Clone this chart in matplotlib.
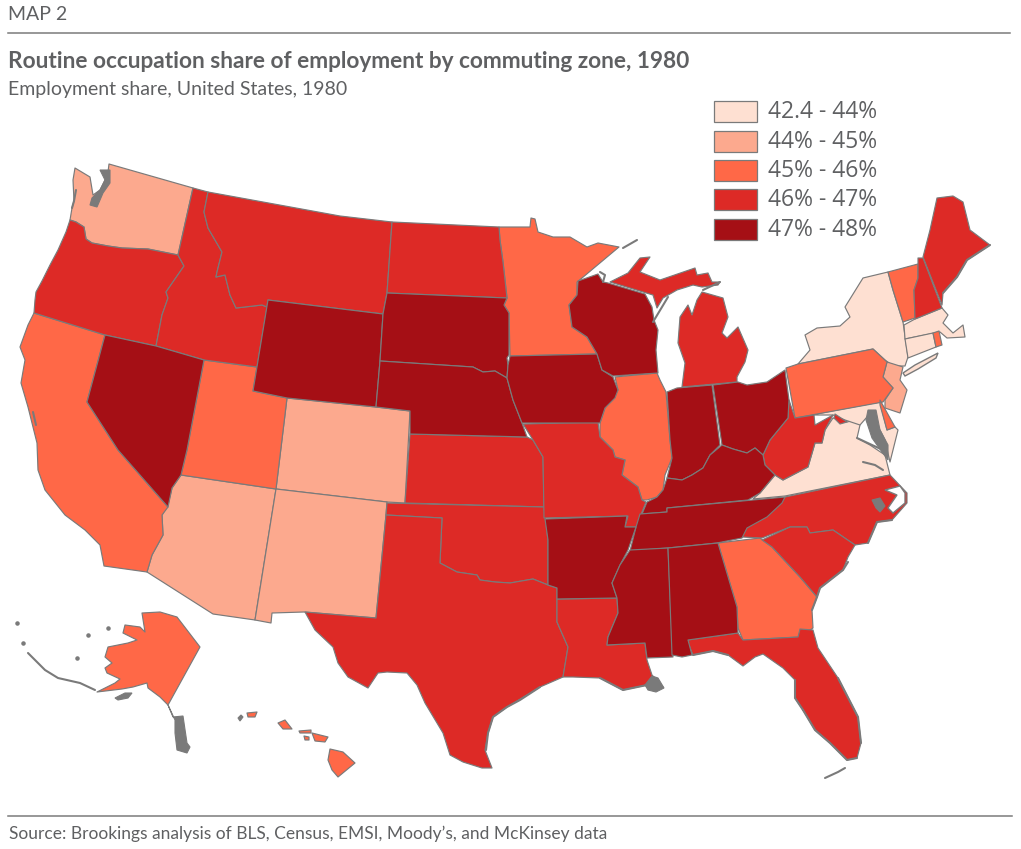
import matplotlib
matplotlib.use("Agg")
import matplotlib.pyplot as plt
from matplotlib.patches import Polygon, Rectangle

# ---- chart values -------------------------------------------------------
legend_labels = ["42.4 - 44%", "44% - 45%", "45% - 46%", "46% - 47%", "47% - 48%"]
class_colors = ["#FEE0D2", "#FCA98E", "#FF6847", "#DD2A26", "#A50F15"]

class_0 = ["NY", "MA", "CT", "VA", "MD"]
class_1 = ["WA", "CO", "AZ", "NM", "NJ"]
class_2 = ["CA", "UT", "MN", "IL", "PA", "VT", "GA", "DE", "RI", "AK", "HI_big", "HI_maui",
           "HI_molokai", "HI_lanai", "HI_oahu", "HI_kauai"]
class_3 = ["OR", "ID", "MT", "ND", "KS", "OK", "TX", "LA", "MO", "MI_up", "MI_low", "WV", "WV_md",
           "NC", "SC", "FL", "ME", "NH"]
class_4 = ["NV", "WY", "SD", "NE", "IA", "WI", "IN", "OH", "KY", "TN", "AR", "MS", "AL"]
classes = [class_0, class_1, class_2, class_3, class_4]

outlines = {
"WA": [(109,164),(193,188),(178,255),(148,249),(122,248),(108,246),(92,243),(86,239),(84,227),(76,222),(70,220),(72,208),(74,201),(73,180),(75,168),(90,177),(93,195),(100,190),(105,180),(108,172)],
"OR": [(70,220),(76,222),(84,227),(86,239),(92,243),(108,246),(122,248),(148,249),(178,255),(184,266),(166,292),(168,298),(162,315),(156,346),(105,335),(34,313),(35,300),(36,292),(42,281),(50,265),(58,250),(66,232)],
"ID": [(193,188),(208,192),(204,212),(208,228),(222,252),(217,272),(216,277),(225,275),(230,295),(236,308),(262,305),(267,307),(257,367),(204,360),(156,346),(162,315),(168,298),(166,292),(184,266),(178,255)],
"MT": [(208,192),(340,216),(392,222),(387,293),(383,314),(268,300),(267,307),(262,305),(236,308),(230,295),(225,275),(216,277),(217,272),(222,252),(208,228),(204,212)],
"ND": [(392,222),(499,227),(500,240),(503,262),(507,298),(387,293)],
"SD": [(387,293),(507,298),(504,305),(509,313),(509,355),(507,358),(508,365),(507,378),(495,371),(483,372),(473,367),(380,361),(383,314)],
"NE": [(380,361),(473,367),(483,372),(495,371),(507,378),(513,400),(522,423),(527,437),(410,434),(410,411),(376,407)],
"IA": [(510,356),(597,354),(602,370),(613,377),(618,390),(615,398),(605,408),(600,423),(522,423),(513,400),(507,378),(508,365)],
"MN": [(499,227),(530,227),(531,218),(535,219),(538,232),(553,237),(570,237),(587,247),(598,243),(619,247),(582,278),(577,282),(577,295),(569,305),(572,327),(587,337),(597,354),(510,356),(509,313),(504,305),(507,298),(503,262),(500,240)],
"WI": [(578,281),(598,274),(603,282),(608,283),(645,294),(652,307),(654,320),(658,330),(656,350),(658,373),(613,376),(602,370),(597,354),(587,337),(572,327),(569,305),(577,295)],
"MI_up": [(610,282),(628,273),(640,258),(650,257),(640,272),(660,280),(695,268),(697,275),(708,273),(712,282),(720,282),(718,285),(702,287),(693,285),(677,290),(663,298),(657,308),(653,295)],
"MI_low": [(702,292),(723,298),(728,317),(722,333),(727,338),(738,327),(748,350),(745,362),(737,377),(737,382),(682,387),(685,363),(678,343),(680,317),(688,305),(692,315),(697,300)],
"IN": [(667,392),(677,388),(712,385),(720,445),(710,455),(703,468),(692,475),(682,480),(667,478),(672,458),(670,440)],
"OH": [(713,385),(738,382),(747,385),(767,382),(785,370),(789,400),(788,418),(770,440),(763,455),(755,448),(747,453),(733,449),(722,445)],
"IL": [(615,377),(657,373),(660,380),(666,392),(670,440),(672,458),(665,475),(663,490),(657,497),(647,500),(642,500),(638,487),(622,475),(625,460),(615,457),(613,450),(600,437),(600,423),(605,408),(618,390)],
"MO": [(523,424),(598,422),(600,437),(613,450),(615,457),(625,460),(622,475),(638,487),(642,500),(646,502),(642,512),(637,527),(625,527),(628,516),(544,518),(543,457),(533,440)],
"KS": [(410,434),(527,437),(533,440),(543,457),(544,507),(405,503)],
"CO": [(287,398),(376,407),(410,411),(405,503),(387,502),(276,489)],
"OK": [(387,503),(544,507),(548,540),(548,585),(533,579),(510,583),(495,582),(480,580),(477,575),(457,572),(440,563),(442,518),(386,515)],
"TX": [(386,515),(442,518),(440,563),(457,572),(477,575),(480,580),(495,582),(510,583),(533,579),(548,585),(557,588),(557,622),(568,647),(563,677),(540,687),(507,707),(493,717),(488,733),(485,750),(492,768),(482,768),(463,762),(450,755),(443,733),(425,703),(417,685),(407,673),(387,672),(378,673),(368,688),(348,677),(338,663),(333,647),(315,630),(305,612),(376,618)],
"NM": [(276,489),(387,502),(386,515),(376,618),(304,612),(272,613),(271,623),(255,620)],
"AZ": [(181,475),(276,489),(255,620),(213,614),(147,572),(152,555),(163,535),(162,515),(168,505),(172,488)],
"NV": [(105,335),(156,346),(204,360),(187,450),(181,475),(172,488),(168,507),(118,450),(87,402)],
"CA": [(34,313),(105,335),(87,402),(118,450),(168,507),(162,515),(163,535),(152,555),(147,572),(104,566),(100,545),(85,530),(65,515),(45,490),(38,470),(37,443),(33,427),(28,407),(21,383),(25,360),(20,347),(28,325)],
"UT": [(204,360),(257,367),(253,391),(287,398),(276,489),(181,475),(187,450)],
"WY": [(268,300),(383,314),(380,361),(376,407),(287,398),(253,391)],
"AR": [(545,519),(627,516),(625,527),(636,527),(628,550),(620,565),(612,583),(617,598),(557,599),(557,588),(548,585),(548,540)],
"LA": [(557,599),(617,598),(618,613),(608,637),(607,645),(645,643),(647,660),(652,675),(663,687),(657,690),(647,685),(623,690),(600,678),(573,677),(563,677),(568,647),(557,622)],
"MS": [(630,550),(668,548),(673,657),(647,658),(645,643),(607,645),(608,637),(618,613),(617,598),(612,583),(620,565)],
"AL": [(668,548),(718,543),(737,607),(738,633),(688,640),(692,655),(682,657),(672,655)],
"TN": [(640,514),(667,512),(667,508),(785,497),(782,503),(767,517),(747,528),(742,538),(717,543),(668,548),(630,551),(636,527)],
"KY": [(647,502),(657,497),(663,490),(667,478),(682,480),(692,475),(703,468),(710,455),(722,445),(733,449),(747,453),(755,448),(763,455),(765,465),(775,475),(760,493),(748,500),(667,508),(667,512),(642,514)],
"WV": [(789,400),(795,418),(814,415),(815,425),(833,415),(825,430),(822,443),(815,443),(808,467),(783,480),(775,475),(765,465),(763,455),(770,440),(788,418)],
"WV_md": [(835,414),(847,422),(840,424),(834,418)],
"PA": [(786,368),(798,364),(873,349),(887,362),(883,377),(893,388),(883,402),(795,418)],
"NY": [(798,364),(810,350),(805,335),(817,328),(840,326),(850,317),(845,307),(863,278),(888,272),(893,290),(903,322),(908,357),(905,366),(893,366),(885,360),(873,349)],
"VT": [(888,272),(918,264),(918,278),(914,290),(915,318),(903,322),(893,290)],
"NH": [(918,258),(923,258),(942,308),(915,319),(914,290),(918,278)],
"ME": [(923,257),(930,230),(937,198),(953,196),(963,202),(970,230),(990,245),(967,260),(957,277),(943,293),(942,305)],
"MA": [(904,325),(915,319),(942,308),(948,315),(943,323),(953,333),(963,325),(965,337),(947,338),(940,332),(905,339)],
"CT": [(905,339),(933,333),(936,347),(908,358)],
"RI": [(933,333),(939,331),(942,345),(936,347)],
"NJ": [(887,362),(903,367),(900,380),(907,390),(900,413),(885,408),(885,400),(893,388),(883,377)],
"DE": [(880,400),(895,427),(887,430),(880,405)],
"MD": [(795,418),(880,402),(887,430),(895,427),(898,430),(890,462),(885,440),(880,430),(867,417),(860,425),(845,420),(833,415),(814,415)],
"VA": [(808,467),(815,443),(822,443),(825,430),(833,418),(847,422),(855,420),(860,425),(857,438),(870,445),(885,455),(890,475),(785,496),(753,499),(760,493),(775,475),(783,480)],
"NC": [(890,475),(907,493),(907,503),(892,520),(877,522),(868,543),(855,545),(833,530),(810,533),(807,527),(790,527),(762,538),(742,537),(743,530),(763,517),(785,497)],
"SC": [(762,540),(790,527),(807,527),(810,533),(833,530),(855,545),(848,557),(843,570),(820,588),(817,597),(800,577),(772,547)],
"GA": [(718,543),(760,538),(772,547),(800,577),(817,597),(812,610),(813,628),(800,637),(743,640),(738,628),(737,607)],
"FL": [(687,640),(738,633),(743,640),(798,637),(800,629),(813,630),(818,648),(838,678),(858,717),(861,743),(857,758),(847,760),(830,743),(815,730),(803,710),(795,698),(795,680),(783,668),(763,654),(755,657),(743,666),(728,655),(713,651),(693,655)],
"AK": [(142,613),(160,612),(177,617),(200,647),(168,705),(160,697),(148,688),(147,683),(133,687),(122,689),(97,692),(115,683),(120,679),(107,673),(105,668),(112,663),(105,657),(108,647),(128,643),(137,640),(123,633),(125,625),(140,627),(145,632)],
"HI_big": [(330,749),(343,752),(355,763),(338,777),(332,770),(328,760)],
"HI_maui": [(312,733),(320,735),(328,737),(325,742),(315,741)],
"HI_molokai": [(299,731),(311,730),(311,733),(300,733)],
"HI_lanai": [(304,736),(309,737),(309,740),(305,740)],
"HI_oahu": [(278,723),(285,720),(292,729),(283,729)],
"HI_kauai": [(247,713),(257,712),(255,717),(248,717)],
}

# Dense shoreline detail that shows as solid grey in the reference
grey_blobs = [
    [(100,170),(110,170),(110,183),(103,193),(97,207),(90,205),(92,198),(100,190),(105,180)],   # Puget Sound
    [(168,705),(173,717),(183,716),(187,743),(190,747),(187,753),(177,750),(175,733),(175,720)],   # SE Alaska
    [(645,685),(652,676),(658,678),(664,688),(656,692),(648,690)],                                 # Mississippi delta
    [(115,698),(125,693),(132,693),(128,698),(118,700)],                                           # Kodiak
    [(872,500),(880,498),(885,506),(880,512),(876,508)],                                           # Pamlico west
    [(238,718),(241,715),(243,717),(240,721)],                                                     # Niihau
    [(868,410),(876,410),(880,430),(888,445),(888,460),(882,452),(872,438),(866,420)],             # Chesapeake
]
grey_strokes = [
    [(540,687),(520,700),(507,707),(493,717),(488,733),(486,750)],
    [(600,678),(623,690),(647,685)],
    [(803,710),(815,730),(830,743),(847,760),(857,758)],
    [(825,778),(838,772),(845,768)],
    [(848,562),(843,570),(820,588),(817,597),(812,610)],
    [(892,520),(877,522),(868,543)],
    [(990,245),(967,260),(957,277),(943,293)],
    [(72,208),(74,201),(76,190)],
    [(33,412),(36,425)],
    [(857,438),(872,445),(883,450)],
    [(863,462),(875,465),(883,470)],
    [(623,248),(637,240)],
    [(600,272),(605,275),(603,282)],
    [(728,655),(713,651),(693,655)],
    [(653,322),(668,297)],
    [(703,290),(720,282)],
    [(795,680),(795,698),(803,710)],
    [(28,653),(45,670),(58,678),(80,683),(95,690)],
    [(838,678),(858,717),(861,743)],
]
grey_dots = [(17,623),(108,628),(88,635),(77,658),(23,643)]
white_water = [[(885,490),(900,486),(905,493),(905,503),(893,513),(888,508),(897,495)]]
long_island = [(903,373),(915,365),(938,353),(936,358),(918,369),(905,376)]
legend_tops = [101, 131, 160, 189, 219]

# ---- drawing ------------------------------------------------------------
TEXT = "#5F6062"
GREY = "#7A7A7A"
fig = plt.figure(figsize=(10.21, 8.49), dpi=100)
ax = fig.add_axes([0, 0, 1, 1])
ax.set_xlim(0, 1021)
ax.set_ylim(849, 0)
ax.axis("off")

for color, states in zip(class_colors, classes):
    for st in states:
        ax.add_patch(Polygon(outlines[st], closed=True, facecolor=color, edgecolor=GREY, lw=0.85, joinstyle="round", zorder=2))
ax.add_patch(Polygon(long_island, closed=True, facecolor=class_colors[0], edgecolor=GREY, lw=1.0, zorder=3))
for w in white_water:
    ax.add_patch(Polygon(w, closed=True, facecolor="white", edgecolor=GREY, lw=1.0, zorder=3))
for b in grey_blobs:
    ax.add_patch(Polygon(b, closed=True, facecolor=GREY, edgecolor=GREY, lw=0.8, zorder=4))
for s in grey_strokes:
    ax.plot([p[0] for p in s], [p[1] for p in s], color=GREY, lw=1.5, solid_capstyle="round", zorder=4)
ax.scatter([p[0] for p in grey_dots], [p[1] for p in grey_dots], s=5, color=GREY, zorder=4)

for top, label, color in zip(legend_tops, legend_labels, class_colors):
    ax.add_patch(Rectangle((714, top), 43, 21, facecolor=color, edgecolor=GREY, lw=0.9, zorder=5))
    ax.text(768, top + 11, label, fontsize=16.5, color=TEXT, family="Open Sans", va="center", ha="left")

ax.plot([8, 1010], [33, 33], color=GREY, lw=1.1)
ax.plot([8, 1012], [816, 816], color=GREY, lw=1.1)
ax.text(8, 14, "MAP 2", fontsize=14, color=TEXT, family="Lato", va="center", ha="left")
ax.text(8, 61, "Routine occupation share of employment by commuting zone, 1980",
        fontsize=16.3, fontweight="bold", color=TEXT, family="Lato", va="center", ha="left")
ax.text(8, 89, "Employment share, United States, 1980", fontsize=14, color=TEXT, family="Lato", va="center", ha="left")
ax.text(9, 834, "Source: Brookings analysis of BLS, Census, EMSI, Moody\u2019s, and McKinsey data",
        fontsize=12.5, color=TEXT, family="Lato", va="center", ha="left")

fig.savefig("out.png", dpi=100, facecolor="white")
